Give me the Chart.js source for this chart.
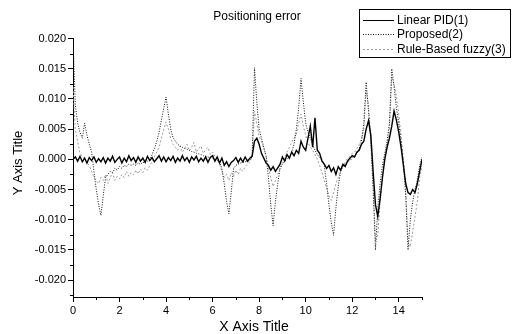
<!DOCTYPE html>
<html><head><meta charset="utf-8">
<script src="https://cdn.jsdelivr.net/npm/chart.js@4/dist/chart.umd.min.js"></script>
<style>html,body{margin:0;padding:0;background:#fff}#wrap{width:512px;height:334px;position:relative}</style>
</head><body><div id="wrap"><canvas id="c" width="512" height="334"></canvas></div>
<script>
const timeSeconds = [
0.0,0.1,0.2,0.3,0.4,0.5,0.6,0.7,0.8,0.9,
1.0,1.1,1.2,1.3,1.4,1.5,1.6,1.7,1.8,1.9,
2.0,2.1,2.2,2.3,2.4,2.5,2.6,2.7,2.8,2.9,
3.0,3.1,3.2,3.3,3.4,3.5,3.6,3.7,3.8,3.9,
4.0,4.1,4.2,4.3,4.4,4.5,4.6,4.7,4.8,4.9,
5.0,5.1,5.2,5.3,5.4,5.5,5.6,5.7,5.8,5.9,
6.0,6.1,6.2,6.3,6.4,6.5,6.6,6.7,6.8,6.9,
7.0,7.1,7.2,7.3,7.4,7.5,7.6,7.7,7.8,7.9,
8.0,8.1,8.2,8.3,8.4,8.5,8.6,8.7,8.8,8.9,
9.0,9.1,9.2,9.3,9.4,9.5,9.6,9.7,9.8,9.9,
10.0,10.1,10.2,10.3,10.4,10.5,10.6,10.7,10.8,10.9,
11.0,11.1,11.2,11.3,11.4,11.5,11.6,11.7,11.8,11.9,
12.0,12.1,12.2,12.3,12.4,12.5,12.6,12.7,12.8,12.9,
13.0,13.1,13.2,13.3,13.4,13.5,13.6,13.7,13.8,13.9,
14.0,14.1,14.2,14.3,14.4,14.5,14.6,14.7,14.8,14.9,
15.0];

const linearPID = [
0.0000,0.0004,-0.0003,0.0005,-0.0004,0.0002,-0.0006,0.0003,-0.0002,0.0004,
-0.0005,0.0001,-0.0004,0.0003,-0.0006,0.0002,-0.0003,0.0005,-0.0005,0.0000,
0.0004,-0.0006,0.0002,-0.0004,0.0006,-0.0002,0.0003,-0.0005,0.0004,-0.0003,
0.0002,-0.0005,0.0005,-0.0002,0.0003,-0.0004,0.0001,0.0006,-0.0003,0.0004,
-0.0004,0.0003,-0.0002,0.0005,-0.0005,0.0002,-0.0003,0.0006,-0.0002,0.0003,
-0.0005,0.0004,-0.0001,0.0005,-0.0004,0.0002,-0.0003,0.0004,-0.0005,0.0003,
0.0006,-0.0003,0.0004,-0.0006,0.0002,-0.0010,-0.0004,-0.0012,-0.0005,-0.0002,
0.0003,-0.0005,0.0002,-0.0004,0.0004,-0.0003,0.0002,0.0005,0.0030,0.0035,
0.0025,0.0010,0.0002,-0.0006,-0.0010,-0.0018,-0.0012,-0.0020,-0.0014,-0.0008,
0.0004,-0.0003,0.0008,0.0002,0.0012,0.0006,0.0015,0.0010,0.0030,0.0020,
0.0015,0.0035,0.0055,0.0020,0.0069,0.0015,0.0010,-0.0003,-0.0008,-0.0015,
-0.0010,-0.0020,-0.0014,-0.0025,-0.0012,-0.0018,-0.0008,-0.0012,-0.0003,0.0002,
0.0006,0.0004,0.0012,0.0015,0.0025,0.0030,0.0050,0.0064,0.0040,-0.0020,
-0.0075,-0.0095,-0.0065,-0.0030,0.0000,0.0020,0.0035,0.0055,0.0080,0.0065,
0.0045,0.0020,-0.0010,-0.0040,-0.0055,-0.0058,-0.0050,-0.0055,-0.0040,-0.0020,
0.0000];

const proposed = [
0.0200,0.0090,0.0060,0.0045,0.0035,0.0060,0.0040,0.0025,0.0012,-0.0020,
-0.0050,-0.0075,-0.0093,-0.0060,-0.0030,-0.0025,-0.0020,-0.0022,-0.0015,-0.0018,
-0.0012,-0.0015,-0.0010,-0.0012,-0.0008,-0.0010,-0.0008,-0.0010,-0.0006,-0.0008,
-0.0005,-0.0006,-0.0003,-0.0001,0.0008,0.0018,0.0030,0.0045,0.0065,0.0085,
0.0103,0.0075,0.0050,0.0036,0.0030,0.0025,0.0022,0.0020,0.0018,0.0017,
0.0015,0.0013,0.0012,0.0010,0.0009,0.0008,0.0006,0.0005,0.0004,0.0003,
0.0002,0.0000,-0.0002,-0.0005,-0.0015,-0.0040,-0.0070,-0.0090,-0.0055,-0.0015,
-0.0010,-0.0008,-0.0006,-0.0005,-0.0004,-0.0003,-0.0002,0.0005,0.0152,0.0095,
0.0050,0.0035,0.0020,0.0005,-0.0030,-0.0075,-0.0110,-0.0070,-0.0040,-0.0015,
-0.0008,-0.0003,0.0000,0.0005,0.0012,0.0025,0.0050,0.0085,0.0134,0.0095,
0.0060,0.0045,0.0035,0.0025,0.0015,0.0008,0.0003,0.0000,-0.0010,-0.0040,
-0.0075,-0.0105,-0.0126,-0.0080,-0.0045,-0.0020,-0.0012,-0.0008,-0.0005,-0.0002,
0.0002,0.0006,0.0010,0.0018,0.0030,0.0060,0.0128,0.0080,0.0030,-0.0050,
-0.0150,-0.0080,-0.0040,-0.0010,0.0010,0.0030,0.0060,0.0150,0.0120,0.0085,
0.0060,0.0030,-0.0005,-0.0060,-0.0150,-0.0100,-0.0070,-0.0050,-0.0035,-0.0010,
0.0004];

const ruleBasedFuzzy = [
0.0120,0.0050,0.0030,0.0010,0.0005,0.0000,-0.0005,-0.0010,-0.0020,-0.0030,
-0.0035,-0.0040,-0.0030,-0.0035,-0.0025,-0.0040,-0.0030,-0.0022,-0.0035,-0.0028,
-0.0032,-0.0025,-0.0030,-0.0020,-0.0028,-0.0022,-0.0026,-0.0018,-0.0024,-0.0016,
-0.0022,-0.0014,-0.0018,-0.0010,-0.0004,0.0004,0.0012,0.0020,0.0035,0.0050,
0.0062,0.0050,0.0035,0.0025,0.0020,0.0015,0.0022,0.0012,0.0018,0.0025,
0.0014,0.0020,0.0028,0.0012,0.0018,0.0022,0.0010,0.0016,0.0020,0.0008,
0.0012,0.0005,0.0002,-0.0008,-0.0020,-0.0030,-0.0025,-0.0035,-0.0022,-0.0028,
-0.0018,-0.0025,-0.0015,-0.0020,-0.0012,-0.0008,-0.0004,0.0004,0.0080,0.0060,
0.0038,0.0030,0.0018,0.0005,-0.0015,-0.0030,-0.0045,-0.0035,-0.0025,-0.0015,
-0.0005,0.0003,0.0012,0.0020,0.0028,0.0035,0.0042,0.0060,0.0075,0.0055,
0.0040,0.0028,0.0020,0.0015,0.0008,0.0000,-0.0010,-0.0022,-0.0035,-0.0048,
-0.0060,-0.0068,-0.0055,-0.0040,-0.0030,-0.0020,-0.0012,-0.0005,0.0002,0.0005,
0.0010,0.0012,0.0018,0.0025,0.0035,0.0050,0.0115,0.0090,0.0040,-0.0040,
-0.0135,-0.0125,-0.0070,-0.0030,0.0000,0.0025,0.0050,0.0135,0.0125,0.0105,
0.0075,0.0040,0.0000,-0.0050,-0.0135,-0.0145,-0.0120,-0.0095,-0.0070,-0.0030,
-0.0010];

const seriesNames = ['Linear PID(1)', 'Proposed(2)', 'Rule-Based fuzzy(3)'];
const xTickValues = [0, 2, 4, 6, 8, 10, 12, 14];
const xMinorTickValues = [1, 3, 5, 7, 9, 11, 13, 15];
const yTickValues = [-0.020, -0.015, -0.010, -0.005, 0.000, 0.005, 0.010, 0.015, 0.020];
const yMinorTickValues = [-0.0225, -0.0175, -0.0125, -0.0075, -0.0025, 0.0025, 0.0075, 0.0125, 0.0175];
const chartTitle = 'Positioning error';
const xAxisTitle = 'X Axis Title';
const yAxisTitle = 'Y Axis Title';

const FONT = '"Liberation Sans", Arial, sans-serif';
const toPoints = vals => vals.map((v, i) => ({x: timeSeconds[i], y: v}));

const styles = [
  {color: '#000000', dash: [], width: 1.4},
  {color: '#111111', dash: [1, 1.5], width: 1},
  {color: '#9a9a9a', dash: [2, 2], width: 1}
];

const decorPlugin = {
  id: 'decor',
  afterDraw(chart) {
    const ctx = chart.ctx;
    const xs = chart.scales.x, ys = chart.scales.y;
    const ca = chart.chartArea;
    ctx.save();
    ctx.strokeStyle = '#000';
    ctx.lineWidth = 1;
    ctx.setLineDash([]);
    ctx.beginPath();
    xMinorTickValues.forEach(v => {
      const px = Math.round(xs.getPixelForValue(v)) + 0.5;
      ctx.moveTo(px, ca.bottom); ctx.lineTo(px, ca.bottom + 3);
    });
    yMinorTickValues.forEach(v => {
      const py = Math.round(ys.getPixelForValue(v)) + 0.5;
      if (py < ca.top || py > ca.bottom) return;
      ctx.moveTo(ca.left, py); ctx.lineTo(ca.left - 3, py);
    });
    ctx.stroke();

    ctx.fillStyle = '#000';
    ctx.textBaseline = 'middle';
    ctx.textAlign = 'center';
    ctx.font = '12px ' + FONT;
    ctx.fillText(chartTitle, 257, 17);
    ctx.font = '14px ' + FONT;
    ctx.fillText(xAxisTitle, 254, 327);
    ctx.save();
    ctx.translate(18, 163);
    ctx.rotate(-Math.PI / 2);
    ctx.font = '13px ' + FONT;
    ctx.fillText(yAxisTitle, 0, 0);
    ctx.restore();

    // legend
    ctx.strokeStyle = '#000';
    ctx.lineWidth = 1;
    ctx.strokeRect(359.5, 9.5, 151, 48);
    const rows = [20.5, 34.5, 49.5];
    ctx.font = '12px ' + FONT;
    ctx.textAlign = 'left';
    seriesNames.forEach((name, i) => {
      const s = styles[i];
      ctx.strokeStyle = s.color;
      ctx.lineWidth = 1;
      ctx.setLineDash(s.dash);
      ctx.beginPath();
      ctx.moveTo(363, rows[i]); ctx.lineTo(394, rows[i]);
      ctx.stroke();
      ctx.setLineDash([]);
      ctx.fillStyle = '#000';
      ctx.fillText(name, 397, rows[i]);
    });
    ctx.restore();
  }
};

const datasets = [linearPID, proposed, ruleBasedFuzzy].map((vals, i) => ({
  label: seriesNames[i],
  data: toPoints(vals),
  borderColor: styles[i].color,
  borderDash: styles[i].dash,
  borderWidth: styles[i].width,
  pointRadius: 0,
  tension: 0,
  fill: false,
  order: i
}));

new Chart(document.getElementById('c'), {
  type: 'line',
  data: {datasets},
  options: {
    responsive: false,
    devicePixelRatio: 1,
    animation: false,
    layout: {padding: {left: 0, right: 90, top: 38, bottom: 0}},
    plugins: {legend: {display: false}, title: {display: false}, tooltip: {enabled: false}},
    scales: {
      x: {
        type: 'linear', min: 0, max: 15,
        afterFit: s => { s.height = 37; },
        afterBuildTicks: s => { s.ticks = xTickValues.map(v => ({value: v})); },
        grid: {display: true, drawOnChartArea: false, drawTicks: true, tickLength: 5, color: '#000', lineWidth: 1},
        border: {display: true, color: '#000', width: 1},
        ticks: {color: '#000', font: {family: FONT, size: 11}, padding: 2, maxRotation: 0, callback: v => String(v)}
      },
      y: {
        type: 'linear', min: -0.0228, max: 0.0201,
        afterFit: s => { s.width = 73; },
        afterBuildTicks: s => { s.ticks = yTickValues.map(v => ({value: v})); },
        grid: {display: true, drawOnChartArea: false, drawTicks: true, tickLength: 5, color: '#000', lineWidth: 1},
        border: {display: true, color: '#000', width: 1},
        ticks: {color: '#000', font: {family: FONT, size: 11}, padding: 2, callback: v => v.toFixed(3)}
      }
    }
  },
  plugins: [decorPlugin]
});
</script></body></html>
